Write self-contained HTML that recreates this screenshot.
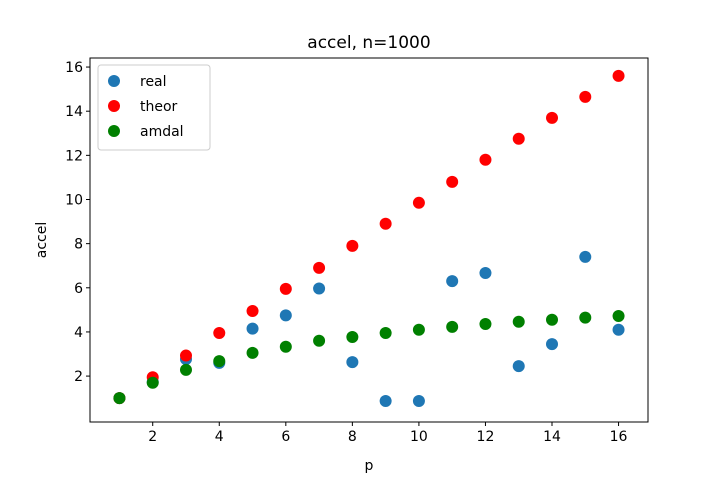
<!DOCTYPE html>
<html><head><meta charset="utf-8"><style>
body{margin:0;background:#fff;font-family:"DejaVu Sans","Liberation Sans",sans-serif;}
svg text{font-family:"DejaVu Sans","Liberation Sans",sans-serif;fill:#000;}
</style></head><body>
<svg id="chart" width="720" height="480" xmlns="http://www.w3.org/2000/svg"></svg>
<script>
const pValues=[1,2,3,4,5,6,7,8,9,10,11,12,13,14,15,16];
const realValues=[1.0,1.73,2.77,2.6,4.15,4.75,5.97,2.63,0.87,0.87,6.3,6.67,2.45,3.45,7.4,4.1];
const theorValues=[1,1.95,2.93,3.95,4.95,5.95,6.9,7.9,8.9,9.85,10.8,11.8,12.75,13.7,14.65,15.6];
const amdalValues=[1,1.7,2.28,2.68,3.05,3.33,3.6,3.77,3.95,4.1,4.23,4.36,4.46,4.55,4.65,4.72];
const xTicks=[2,4,6,8,10,12,14,16];
const yTicks=[2,4,6,8,10,12,14,16];
const NS="http://www.w3.org/2000/svg";
const svg=document.getElementById('chart');
const L=90,R=648,T=58,B=422;
const xmin=0.115,xmax=16.885,ymin=-0.08,ymax=16.41;
const xs=v=>L+(v-xmin)/(xmax-xmin)*(R-L);
const ys=v=>B-(v-ymin)/(ymax-ymin)*(B-T);
function el(tag,attrs,text){const e=document.createElementNS(NS,tag);for(const k in attrs)e.setAttribute(k,attrs[k]);if(text!==undefined)e.textContent=text;svg.appendChild(e);return e;}
const series=[[realValues,'#1f77b4','real'],[theorValues,'#ff0000','theor'],[amdalValues,'#008000','amdal']];
series.forEach(([vals,c,n])=>{vals.forEach((v,i)=>{const d=el('circle',{cx:xs(pValues[i]),cy:ys(v),r:6,fill:c});

});});
const frame=el('rect',{x:L,y:T,width:R-L,height:B-T,fill:'none',stroke:'#000','stroke-width':1});


xTicks.forEach(t=>{const x=xs(t);el('line',{x1:x,x2:x,y1:B,y2:B+4,stroke:'#000'});
const tx=el('text',{x:x,y:B+19,'text-anchor':'middle','font-size':14},t);

});
yTicks.forEach(t=>{const y=ys(t);el('line',{x1:L-4,x2:L,y1:y,y2:y,stroke:'#000'});
const tx=el('text',{x:L-7,y:y+5,'text-anchor':'end','font-size':14},t);

});
const title=el('text',{x:(L+R)/2,y:48,'text-anchor':'middle','font-size':17},'accel, n=1000');


const xl=el('text',{x:(L+R)/2,y:470,'text-anchor':'middle','font-size':14},'p');


const yl=el('text',{x:46,y:(T+B)/2,'text-anchor':'middle','font-size':14,transform:`rotate(-90 46 ${(T+B)/2})`},'accel');


const lg=el('rect',{x:98,y:65,width:112,height:85,rx:3,fill:'#fff',stroke:'#ccc'});


series.forEach(([v,c,n],i)=>{const y=81+i*25;el('circle',{cx:114,cy:y,r:6,fill:c});
const t=el('text',{x:140,y:y+5,'font-size':14},n);

});
</script>
</body></html>
